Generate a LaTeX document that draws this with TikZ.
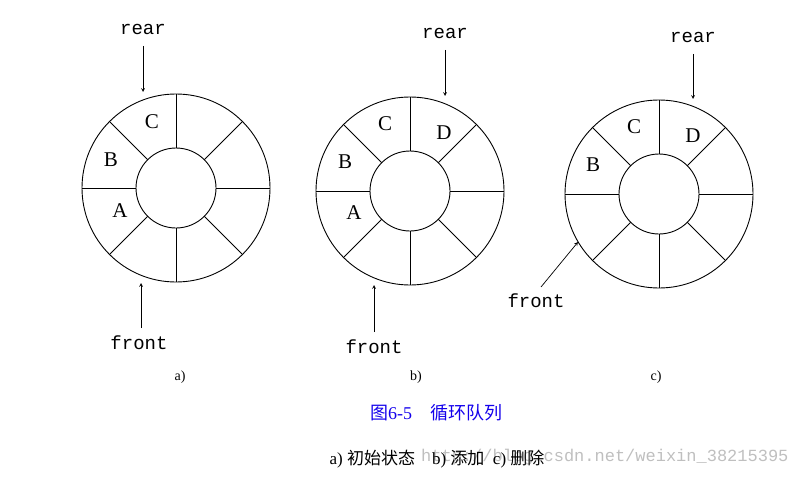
\documentclass[tikz,border=0pt]{standalone}
\usetikzlibrary{calc}
\usepackage{fontspec}
\setmainfont{Liberation Serif}
\setmonofont{Liberation Mono}
\newfontfamily\cjk{Noto Sans CJK SC}
\begin{document}
\begin{tikzpicture}[x=1pt,y=-1pt,
  ring/.style={line width=0.9pt},
  lab/.style={font=\fontsize{21}{21}\selectfont},
  tt/.style={font=\ttfamily\fontsize{19}{19}\selectfont},
  arr/.style={->,>=stealth,line width=0.7pt},
  sub/.style={font=\fontsize{14}{14}\selectfont}]
\useasboundingbox (0,0) rectangle (802,476);
\foreach \n/\cx/\cy in {a/176/188,b/410/191,c/659/194}{
  \coordinate (\n) at (\cx,\cy);
  \draw[ring] (\n) circle (94);
  \draw[ring] (\n) circle (40);
  \foreach \t in {0,45,...,315}
    \draw[ring] ($(\n)+(\t:40)$) -- ($(\n)+(\t:94)$);
}
% ring a
\node[lab] (aC) at (152,122) {C};
\node[lab] (aB) at (111,160) {B};
\node[lab] (aA) at (120,211) {A};
\node[tt] (ar) at (143,29) {rear};
\coordinate (arT) at (143,92);
\draw[arr] (143,46) -- (arT);
\node[tt] (af) at (139,343) {front};
\coordinate (afT) at (141,283);
\draw[arr] (141,328) -- (afT);
\node[sub] (al) at (180,377) {a)};
% ring b
\node[lab] (bC) at (385,124) {C};
\node[lab] (bD) at (444,133) {D};
\node[lab] (bB) at (345,162) {B};
\node[lab] (bA) at (354,213) {A};
\node[tt] (br) at (445,33) {rear};
\coordinate (brT) at (445,96);
\draw[arr] (445,50) -- (brT);
\node[tt] (bf) at (374,347) {front};
\coordinate (bfT) at (374,285);
\draw[arr] (374,332) -- (bfT);
\node[sub] (bl) at (416,377) {b)};
% ring c
\node[lab] (cC) at (634,127) {C};
\node[lab] (cD) at (693,136) {D};
\node[lab] (cB) at (593,165) {B};
\node[tt] (cr) at (693,37) {rear};
\coordinate (crT) at (693,99);
\draw[arr] (693,54) -- (crT);
\node[tt] (cf) at (536,301) {front};
\coordinate (cfT) at (578,242);
\draw[arr] (541,287) -- (cfT);
\node[sub] (cl) at (656,377) {c)};
% captions
\node[font=\fontsize{18}{18}\selectfont, text=blue!85!violet] (cap) at (436,413) {{\cjk 图}6-5\quad{\cjk 循环队列}};
\node[anchor=east, font=\ttfamily\fontsize{17}{17}\selectfont, text=black!25] (wm) at (792,457) {http://blog.csdn.net/weixin\_38215395};
\node[font=\fontsize{17}{17}\selectfont] (cap2) at (437,459) {a) {\cjk 初始状态}\quad b) {\cjk 添加}\enspace c) {\cjk 删除}};
\end{tikzpicture}
\end{document}
